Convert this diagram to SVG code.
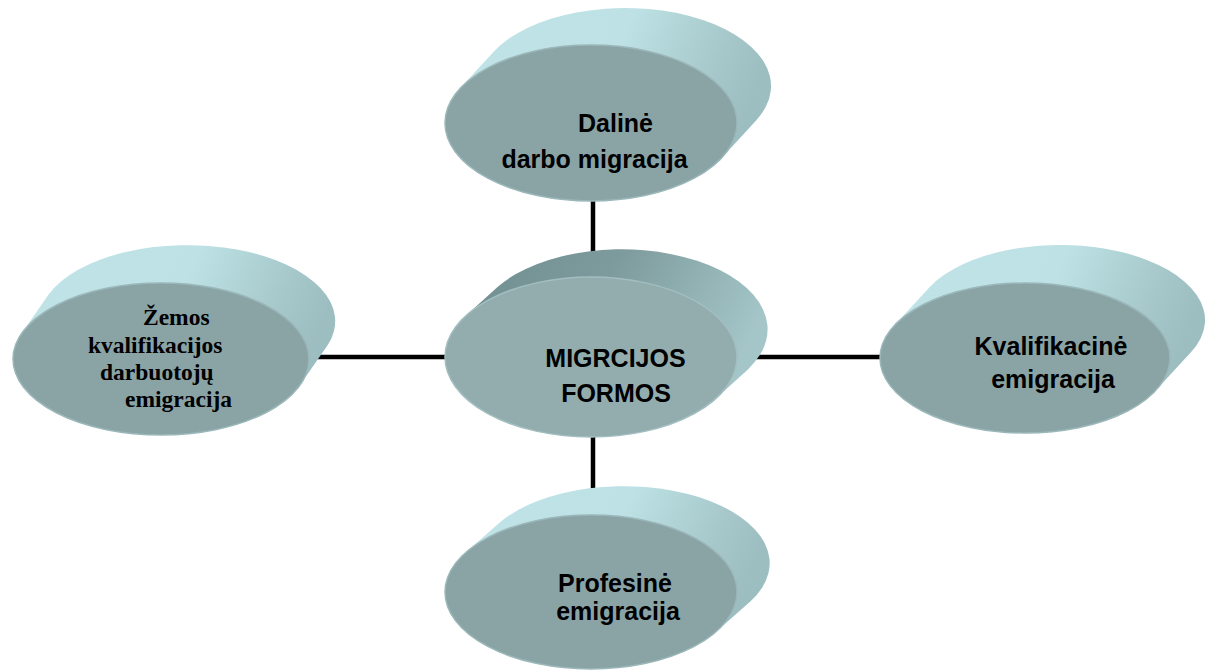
<svg xmlns="http://www.w3.org/2000/svg" width="1211" height="670" viewBox="0 0 1211 670">
<defs>
<linearGradient id="side" x1="0" y1="0" x2="1" y2="0.25">
<stop offset="0" stop-color="#bfe3e7"/>
<stop offset="0.55" stop-color="#bde1e4"/>
<stop offset="0.85" stop-color="#a6c8cb"/>
<stop offset="1" stop-color="#9cbec1"/>
</linearGradient>
<linearGradient id="sideC" x1="0" y1="0" x2="1" y2="0.3">
<stop offset="0" stop-color="#6f8c8e"/>
<stop offset="0.5" stop-color="#7d9a9c"/>
<stop offset="0.9" stop-color="#9cbdbf"/>
<stop offset="1" stop-color="#a5c6c8"/>
</linearGradient>
<style>
.side{fill:url(#side)}
.sideC{fill:url(#sideC)}
.face{fill:#8aa4a6;stroke:#9bb7b9;stroke-width:1.5}
.faceC{fill:#93adaf;stroke:#a3bec0;stroke-width:1.5}
.conn{stroke:#000;stroke-width:4.5;fill:none}
.t{font-family:"Liberation Sans",Arial,sans-serif;font-weight:bold;font-size:25px;fill:#000;text-anchor:middle}
.ts{font-family:"Liberation Serif","Times New Roman",serif;font-weight:bold;font-size:23.5px;fill:#000}
</style>
</defs>
<g id="connectors">
<line class="conn" x1="593" y1="195" x2="593" y2="270"/>
<line class="conn" x1="593" y1="430" x2="593" y2="510"/>
<line class="conn" x1="300" y1="357" x2="450" y2="357"/>
<line class="conn" x1="735" y1="357" x2="885" y2="357"/>
</g>
<g id="node-top">
<path class="side" d="M459.9,88.6 L493.9,51.6 A146,78 0 0 1 756.1,120.4 L722.1,157.4 A146,78 0 0 1 459.9,88.6 Z"/>
<ellipse class="face" cx="591" cy="123" rx="146" ry="78"/>
<text class="t" x="615.5" y="132">Dalinė</text>
<text class="t" x="594.5" y="168">darbo migracija</text>
</g>
<g id="node-center">
<path class="sideC" d="M466.1,315.6 L498.1,286.6 A146,80 0 0 1 747.9,369.4 L715.9,398.4 A146,80 0 0 1 466.1,315.6 Z"/>
<ellipse class="faceC" cx="591" cy="357" rx="146" ry="80"/>
<text class="t" x="615.5" y="367">MIGRCIJOS</text>
<text class="t" x="616" y="402">FORMOS</text>
</g>
<g id="node-left">
<path class="side" d="M21.6,333.5 L48.6,294.5 A148,76 0 0 1 327.4,345.5 L300.4,384.5 A148,76 0 0 1 21.6,333.5 Z"/>
<ellipse class="face" cx="161" cy="359" rx="148" ry="76"/>
<text class="ts" x="143" y="325">Žemos</text>
<text class="ts" x="88" y="353">kvalifikacijos</text>
<text class="ts" x="100" y="380">darbuotojų</text>
<text class="ts" x="125" y="407">emigracija</text>
</g>
<g id="node-right">
<path class="side" d="M894.1,325.7 L929.1,287.7 A145,75 0 0 1 1190.9,352.3 L1155.9,390.3 A145,75 0 0 1 894.1,325.7 Z"/>
<ellipse class="face" cx="1025" cy="358" rx="145" ry="75"/>
<text class="t" x="1051" y="355">Kvalifikacinė</text>
<text class="t" x="1053" y="388">emigracija</text>
</g>
<g id="node-bottom">
<path class="side" d="M465.7,552.5 L499.7,522.5 A146,77 0 0 1 750.3,601.5 L716.3,631.5 A146,77 0 0 1 465.7,552.5 Z"/>
<ellipse class="face" cx="591" cy="592" rx="146" ry="77"/>
<text class="t" x="615" y="592">Profesinė</text>
<text class="t" x="618" y="620">emigracija</text>
</g>
</svg>
